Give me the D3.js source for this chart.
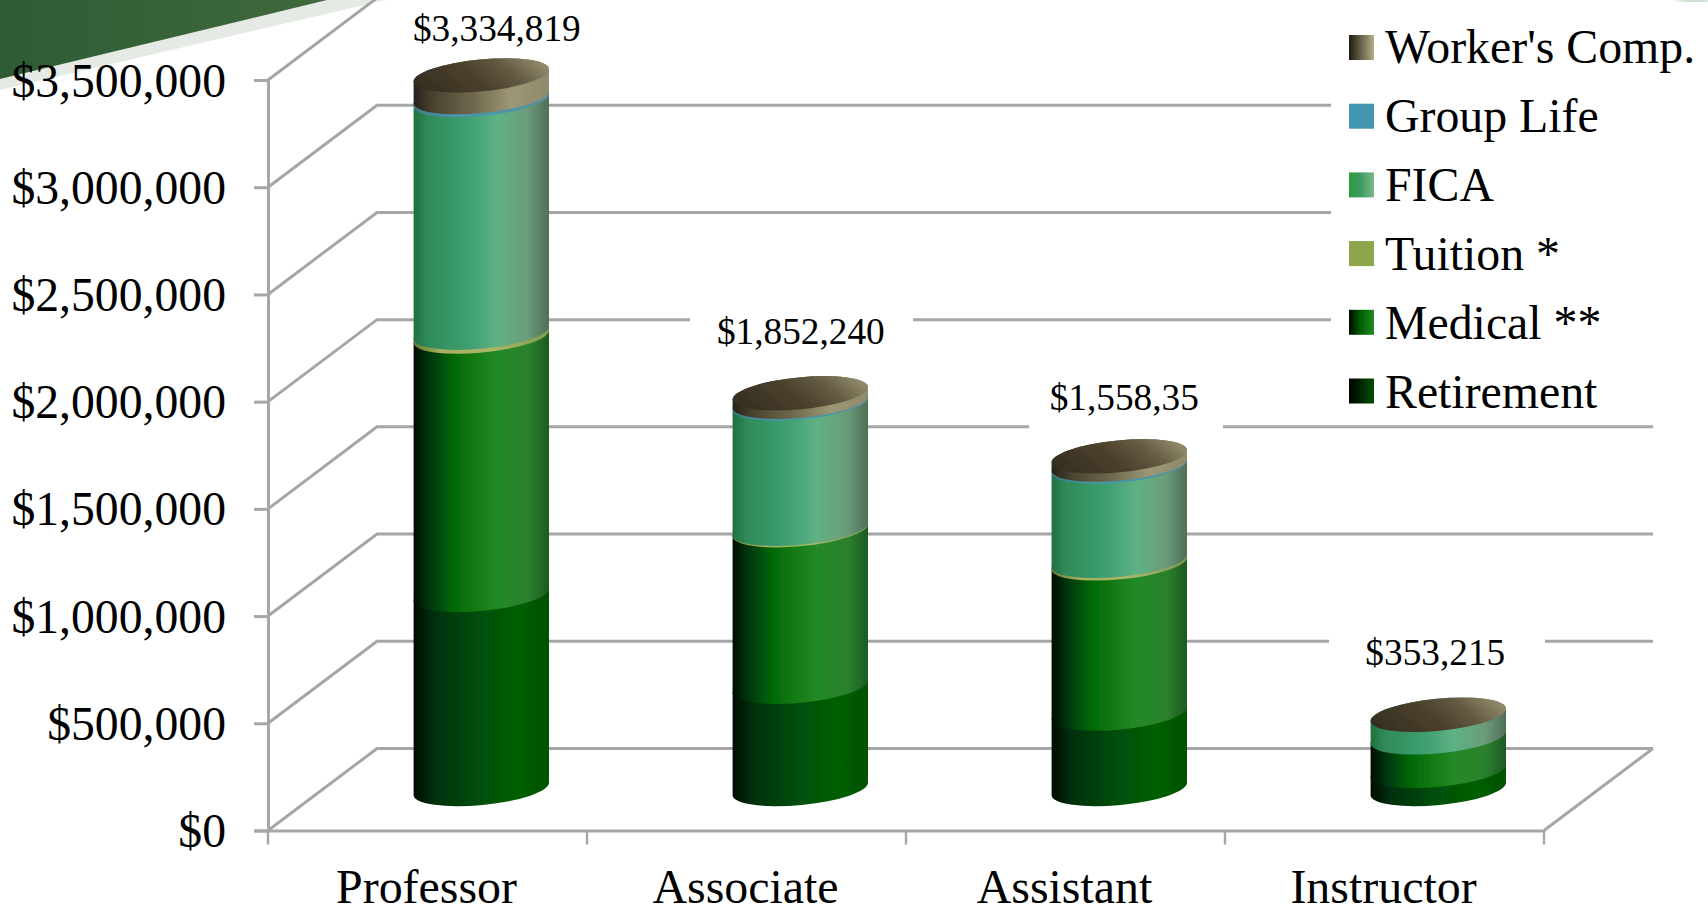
<!DOCTYPE html>
<html><head><meta charset="utf-8">
<script src="https://cdn.jsdelivr.net/npm/d3@7"></script>
<style>
html,body{margin:0;padding:0;background:#fff;overflow:hidden}
svg{display:block}
text{font-family:"Liberation Serif",serif;fill:#000}
</style></head><body>
<svg id="c" width="1708" height="909"></svg>
<script>
const categories = ["Professor","Associate","Assistant","Instructor"];
const retirement = [905000,477000,352000,85000];
const medical    = [1205000,730000,700000,156000];
const tuition    = [18000,6000,12000,0];
const fica       = [1085000,585000,440000,112215];
const groupLife  = [14000,8000,9000,0];
const workersComp= [107819,46240,45350,0];
const totals     = [3334819,1852240,1558350,353215];
const totalLabels= ["$3,334,819","$1,852,240","$1,558,35","$353,215"];
const seriesNames= ["Retirement","Medical **","Tuition *","FICA","Group Life","Worker's Comp."];
const yTicks     = [0,500000,1000000,1500000,2000000,2500000,3000000,3500000];

const svg = d3.select("#c");
const defs = svg.append("defs");
const GRID = "#a6a6a6";
const y = d3.scaleLinear().domain([0,3500000]).range([830.5,80]);
const x = d3.scaleBand().domain(categories).range([268,1544]);
const depthX = 109, depthY = 82;

function grad(id, stops, dir){
  const d = dir||[0,0,1,0];
  const g = defs.append("linearGradient").attr("id",id)
    .attr("x1",d[0]).attr("y1",d[1]).attr("x2",d[2]).attr("y2",d[3]);
  stops.forEach(s=>g.append("stop").attr("offset",s[0]).attr("stop-color",s[1]));
}
const keys = ["Retirement","Medical","Tuition","FICA","Group","Comp"];
grad("g0",[[0,"#000c02"],[.15,"#02300a"],[.5,"#04500a"],[.78,"#005f00"],[1,"#005200"]]);
grad("g1",[[0,"#000c02"],[.1,"#01320a"],[.3,"#006a06"],[.42,"#10760f"],[.62,"#238a25"],[.85,"#2b802e"],[1,"#1c5a22"]]);
grad("g2",[[0,"#5d7a30"],[.2,"#a8b060"],[.6,"#a8b868"],[1,"#7f9a50"]]);
grad("g3",[[0,"#1f703f"],[.1,"#2f8a58"],[.4,"#3d9f70"],[.62,"#5fb184"],[.84,"#6b9c7a"],[1,"#4f6f55"]]);
grad("g4",[[0,"#3f7d8c"],[.3,"#4b95a9"],[.7,"#4b95a9"],[1,"#5f8f98"]]);
grad("g5",[[0,"#26221a"],[.15,"#4a4330"],[.45,"#706a4e"],[.72,"#9d9776"],[1,"#8f8a6b"]]);
grad("cap",[[0,"#362e22"],[.45,"#4c412c"],[.72,"#625a42"],[1,"#8f8869"]],[0,.65,1,.35]);
grad("l5",[[0,"#1f1b10"],[1,"#b5ae88"]]);
grad("l3",[[0,"#2f9a3c"],[.45,"#3a9a60"],[1,"#7cb88c"]]);
grad("l1",[[0,"#000802"],[.5,"#006400"],[1,"#238a25"]]);
grad("l0",[[0,"#000"],[1,"#005000"]]);
grad("wedge",[[0,"#2f5c35"],[1,"#40693c"]]);
const blur = defs.append("filter").attr("id","soft").attr("x","-5%").attr("y","-5%").attr("width","110%").attr("height","110%");
blur.append("feGaussianBlur").attr("stdDeviation",0.7);
const blur2 = defs.append("filter").attr("id","soft2");
blur2.append("feGaussianBlur").attr("stdDeviation",2);

/* slide decoration */
svg.append("path").attr("d","M0,90 L0,0 L386,0 Z").attr("fill","#e6eae5");
svg.append("path").attr("d","M0,79 L0,0 L327,0 Z").attr("fill","url(#wedge)");
svg.append("path").attr("d","M1672,0 L1708,0 L1708,11 Z").attr("fill","#b9ceb9").attr("filter","url(#soft2)");

/* 3D walls */
const walls = svg.append("g").attr("fill","none").attr("stroke",GRID).attr("stroke-width",3);
walls.selectAll("path.g").data(yTicks).join("path").attr("class","g")
  .attr("d",d=>`M${x.range()[0]},${y(d)} l${depthX},${-depthY} L${x.range()[1]+depthX},${y(d)-depthY}`);
walls.append("path").attr("d",`M${x.range()[1]},${y(0)} l${depthX},${-depthY}`);

/* white label / legend backings sit on the grid */
const boxes = [[690,300,223,70],[1029,380,194,70],[1329,615,216,70],[1331,2,377,420]];
svg.append("g").selectAll("rect").data(boxes).join("rect")
  .attr("x",d=>d[0]).attr("y",d=>d[1]).attr("width",d=>d[2]).attr("height",d=>d[3]).attr("fill","#fff");

/* axes */
const axL = d3.axisLeft(y).tickValues(yTicks).tickFormat(d3.format("$,")).tickSize(14).tickPadding(28);
const gL = svg.append("g").attr("transform",`translate(${x.range()[0]},0)`).call(axL);
gL.selectAll("text").attr("font-size",47.7).attr("dy",16).style("fill","#000");
gL.selectAll("line,path").attr("stroke",GRID).attr("stroke-width",3);

const axB = d3.axisBottom(x).tickSize(0).tickPadding(42);
const gB = svg.append("g").attr("transform",`translate(0,${y(0)})`).call(axB);
gB.selectAll("text").attr("font-size",47.9).attr("dy",0).attr("y",72).attr("dx",-1).style("fill","#000");
gB.select("path").attr("stroke",GRID).attr("stroke-width",3);
svg.append("g").selectAll("line").data(d3.range(5)).join("line")
  .attr("x1",i=>x.range()[0]+i*x.step()).attr("x2",i=>x.range()[0]+i*x.step())
  .attr("y1",y(0)).attr("y2",y(0)+14).attr("stroke",GRID).attr("stroke-width",2.4);

/* cylinders */
const rows = categories.map((c,i)=>({c,Retirement:retirement[i],Medical:medical[i],Tuition:tuition[i],FICA:fica[i],Group:groupLife[i],Comp:workersComp[i]}));
const stacked = d3.stack().keys(keys)(rows);
const RX = 68, RY = 16, ROT = -5.5;
const dx = RX*Math.cos(ROT*Math.PI/180), dy = -RX*Math.sin(ROT*Math.PI/180);
const cyl = d => x(d)+x.bandwidth()/2+depthX/2-0.7;
const cyY = v => y(v)-41.5;
const capDrop = 1.5;
function body(cx,v0,v1,top){
  const yb=cyY(v0), yt=cyY(v1)+(top?capDrop:0);
  return `M${cx-dx},${yb+dy} A${RX},${RY} ${ROT} 0 0 ${cx+dx},${yb-dy} L${cx+dx},${yt-dy} A${RX},${RY} ${ROT} 0 0 ${cx-dx},${yt+dy} Z`;
}
function cap(cx,v){
  const yt=cyY(v)+capDrop;
  return `M${cx-dx},${yt+dy} A${RX},${RY} ${ROT} 1 0 ${cx+dx},${yt-dy} A${RX},${RY} ${ROT} 1 0 ${cx-dx},${yt+dy} Z`;
}
const bars = svg.append("g").attr("filter","url(#soft)");
stacked.forEach((s,si)=>{
  bars.append("g").selectAll("path").data(s.filter(d=>d[1]>d[0])).join("path")
    .attr("d",(d,i)=>body(cyl(d.data.c),d[0],d[1],Math.abs(d[1]-totals[categories.indexOf(d.data.c)])<1))
    .attr("fill",`url(#g${si})`);
});
bars.selectAll("path.cap").data(categories).join("path").attr("class","cap")
  .attr("d",(c,i)=>cap(cyl(c),totals[i])).attr("fill","url(#cap)");

/* value labels */
const labelOffset = [15.5,0.5,5,-3];
const labelBase = [40.7,344,410,665];
svg.append("g").selectAll("text").data(categories).join("text")
  .attr("x",(c,i)=>cyl(c)+labelOffset[i]).attr("y",(c,i)=>labelBase[i])
  .attr("text-anchor","middle").attr("font-size",37.3).text((c,i)=>totalLabels[i]);

/* legend */
const legendNames = seriesNames.slice().reverse();
const swatchFill = ["url(#l5)","#4296ae","url(#l3)","#8da64b","url(#l1)","url(#l0)"];
const lg = svg.append("g").selectAll("g").data(legendNames).join("g");
lg.append("rect").attr("x",1349).attr("y",(d,i)=>35+i*68.7).attr("width",25).attr("height",25)
  .attr("fill",(d,i)=>swatchFill[i]);
lg.append("text").attr("x",1385).attr("y",(d,i)=>63+i*69).attr("font-size",47.8).text(d=>d);
</script></body></html>
